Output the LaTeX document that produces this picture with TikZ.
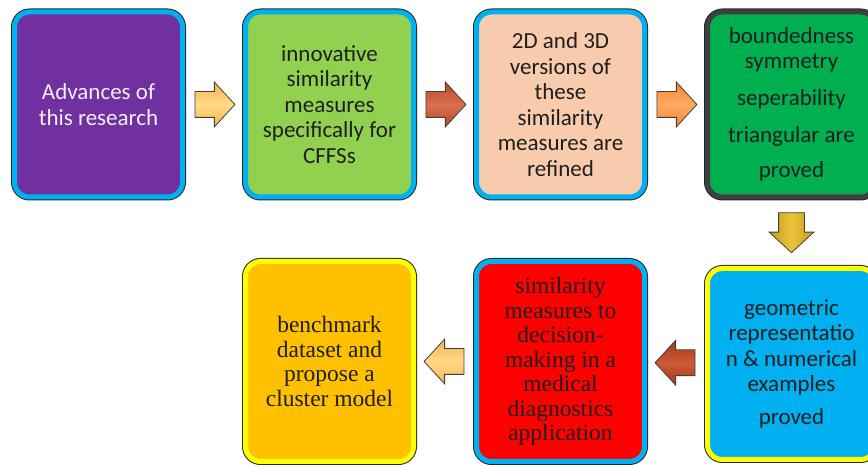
\documentclass[tikz,border=0pt]{standalone}
\usepackage{xcolor}
\usepackage{fontspec}
\setmainfont{Carlito}
\newfontfamily\serifbox{Liberation Serif}
\usepackage{tikz}
\usetikzlibrary{positioning, shapes.arrows, calc}

\definecolor{frameblue}{HTML}{00B0F0}
\definecolor{frameyellow}{HTML}{FFFF00}
\definecolor{framegray}{HTML}{404040}
\definecolor{boxpurple}{HTML}{7030A0}
\definecolor{boxlime}{HTML}{92D050}
\definecolor{boxpeach}{HTML}{F8CBAD}
\definecolor{boxgreen}{HTML}{00B050}
\definecolor{boxred}{HTML}{FF0000}
\definecolor{boxorange}{HTML}{FFC000}
% couleurs des fleches
\definecolor{arrlight}{HTML}{F9B44C}
\definecolor{arrlighthi}{HTML}{FFD98A}
\definecolor{arrbrick}{HTML}{B9482C}
\definecolor{arrbrickhi}{HTML}{D9704E}
\definecolor{arrorange}{HTML}{F7852E}
\definecolor{arrorangehi}{HTML}{FFAA66}
\definecolor{arrgold}{HTML}{C49A14}
\definecolor{arrgoldhi}{HTML}{EBC43C}
\definecolor{arrdark}{HTML}{A8391B}
\definecolor{arrdarkhi}{HTML}{CC5A36}

\begin{document}
\begin{tikzpicture}[x=1pt, y=1pt, node distance=231pt,
    box/.style={draw=frameblue, rectangle, rounded corners=15pt, line width=5pt,
        minimum width=168pt, minimum height=185pt, inner sep=2pt, align=center,
        text=black!88, font=\fontsize{23}{25.5}\selectfont,
        preaction={draw=black!85, line width=7pt}},
    serifbox/.style={box, font=\serifbox\fontsize{23.5}{24.5}\selectfont},
    arr/.style={single arrow, draw=black!75, line width=0.8pt, inner xsep=0pt,
        inner ysep=12.5pt, minimum height=40pt, single arrow head extend=9.5pt,
        single arrow tip angle=95}]
    \useasboundingbox (0,0) rectangle (868,466);

    % Boites du haut
    \node[box, fill=boxpurple, text=white!92!boxpurple] (adv) at (98.5,361.5) {Advances of\\ this research};
    \node[box, fill=boxlime] (innov) [right of=adv] {innovative\\ similarity\\ measures\\ specifically for\\ CFFSs};
    \node[box, fill=boxpeach] (vers) [right of=innov] {2D and 3D\\ versions of\\ these\\ similarity\\ measures are\\ refined};
    \node[box, fill=boxgreen, draw=framegray] (props) [right of=vers] {boundedness\\ symmetry\\[11.5pt] seperability\\[11.5pt] triangular are\\[9.5pt] proved};

    % Boites du bas
    \node[box, fill=frameblue, draw=frameyellow, minimum height=191pt] (geom) [below of=props, node distance=259.5pt] {geometric\\ representatio\\ n \& numerical\\ examples\\[7.5pt] proved};
    \node[serifbox, fill=boxred, minimum height=200pt] (diag) [left of=geom, yshift=2.5pt] {similarity\\ measures to\\ decision-\\ making in a\\ medical\\ diagnostics\\ application};
    \node[serifbox, fill=boxorange, draw=frameyellow, minimum height=200pt] (bench) [left of=diag] {benchmark\\ dataset and\\ propose a\\ cluster model};

    % Fleches
    \node[arr, xshift=-5pt, top color=arrlight, bottom color=arrlight, middle color=arrlighthi] (a1) at ($(adv.east)!0.5!(innov.west)$) {};
    \node[arr, xshift=-5pt, top color=arrbrick, bottom color=arrbrick, middle color=arrbrickhi] (a2) at ($(innov.east)!0.5!(vers.west)$) {};
    \node[arr, xshift=-5pt, top color=arrorange, bottom color=arrorange, middle color=arrorangehi] (a3) at ($(vers.east)!0.5!(props.west)$) {};
    \node[arr, yshift=6pt, shape border rotate=270, inner xsep=12.5pt, inner ysep=0pt, left color=arrgold, right color=arrgold, middle color=arrgoldhi] (a4) at ($(props.south)!0.5!(geom.north)$) {};
    \node[arr, xshift=5pt, shape border rotate=180, top color=arrdark, bottom color=arrdark, middle color=arrdarkhi] (a5) at ($(geom.west)!0.5!(diag.east)$) {};
    \node[arr, xshift=5pt, shape border rotate=180, top color=arrlight, bottom color=arrlight, middle color=arrlighthi] (a6) at ($(diag.west)!0.5!(bench.east)$) {};
\end{tikzpicture}
\end{document}
